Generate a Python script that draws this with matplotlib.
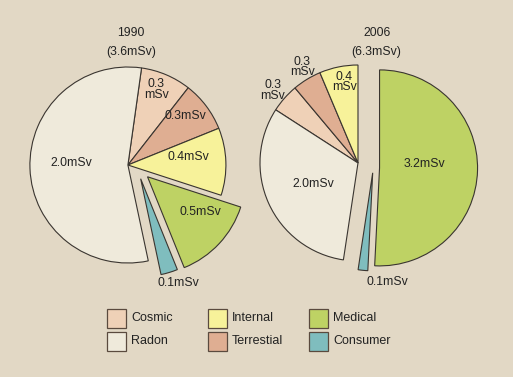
import matplotlib.pyplot as plt
from matplotlib.patches import Rectangle

plt.rcParams['font.family'] = ['Liberation Sans', 'DejaVu Sans']

# sources, in clockwise order round the pie
sources = ['Cosmic', 'Terrestial', 'Internal', 'Medical', 'Consumer', 'Radon']
colors = ['#efd1b7', '#dfae92', '#f7f29a', '#bed264', '#7fbdbe', '#efeadb']

dose_1990 = [0.3, 0.3, 0.4, 0.5, 0.1, 2.0]
dose_2006 = [0.3, 0.3, 0.4, 3.2, 0.1, 2.0]

labels_1990 = ['0.3\nmSv', '0.3mSv', '0.4mSv', '0.5mSv', '0.1mSv', '2.0mSv']
labels_2006 = ['0.3\nmSv', '0.3\nmSv', '0.4\nmSv', '3.2mSv', '0.1mSv', '2.0mSv']

bg = '#e2d8c5'
edge = '#3a3530'
txt = '#222222'
fs = 8.8

fig = plt.figure(figsize=(5.13, 3.77), dpi=100, facecolor=bg)

lim = 1.3
axw = 2 * lim * 98 / 513
axh = 2 * lim * 98 / 377
ax1 = fig.add_axes([0.001, 0.2244, axw, axh])
ax2 = fig.add_axes([0.4495, 0.2297, axw, axh])


def draw_pie(ax, values, labels, start, shifts, label_pos, title, total):
    wedges, _ = ax.pie(values, colors=colors, startangle=start, counterclock=False,
                       wedgeprops=dict(edgecolor=edge, linewidth=0.8))
    # pull the exploded slices out by hand
    for i, (dx, dy) in shifts.items():
        wedges[i].set_center((dx, dy))
    for lab, (x, y) in zip(labels, label_pos):
        ax.text(x, y, lab, ha='center', va='center', fontsize=fs, color=txt,
                linespacing=0.8)
    ax.text(title[0], title[1], title[2], ha='center', va='center', fontsize=fs, color=txt)
    ax.text(title[0], title[1] - 0.2, '(%.1fmSv)' % total, ha='center', va='center',
            fontsize=fs, color=txt)
    ax.set_xlim(-lim, lim)
    ax.set_ylim(-lim, lim)
    ax.set_aspect('equal')
    ax.axis('off')


draw_pie(ax1, dose_1990, labels_1990, 82,
         {3: (0.20, -0.12), 4: (0.13, -0.14)},
         [(0.29, 0.77), (0.59, 0.50), (0.62, 0.08), (0.74, -0.48), (0.51, -1.20), (-0.58, 0.02)],
         (0.03, 1.35, '1990'), sum(dose_1990))

start_2006 = 90 + sum(dose_2006[:3]) / sum(dose_2006) * 360
draw_pie(ax2, dose_2006, labels_2006, start_2006,
         {3: (0.22, -0.05), 4: (0.15, -0.10)},
         [(-0.87, 0.74), (-0.57, 0.98), (-0.14, 0.83), (0.68, -0.01), (0.30, -1.21), (-0.46, -0.21)],
         (0.19, 1.33, '2006'), sum(dose_2006))

# legend: three columns of two
legend_order = ['Cosmic', 'Radon', 'Internal', 'Terrestial', 'Medical', 'Consumer']
col_x = [107, 208, 309]
row_y = [318, 341]
W, H = 513, 377
for i, name in enumerate(legend_order):
    c = colors[sources.index(name)]
    x = col_x[i // 2]
    y = row_y[i % 2]
    fig.patches.append(Rectangle((x / W, (H - y - 9.5) / H), 19 / W, 19 / H,
                                 transform=fig.transFigure, facecolor=c,
                                 edgecolor='#5a4a3e', linewidth=0.9))
    fig.text((x + 24) / W, (H - y) / H, name, ha='left', va='center', fontsize=9, color=txt)

plt.savefig('out.png', dpi=100, facecolor=bg)
